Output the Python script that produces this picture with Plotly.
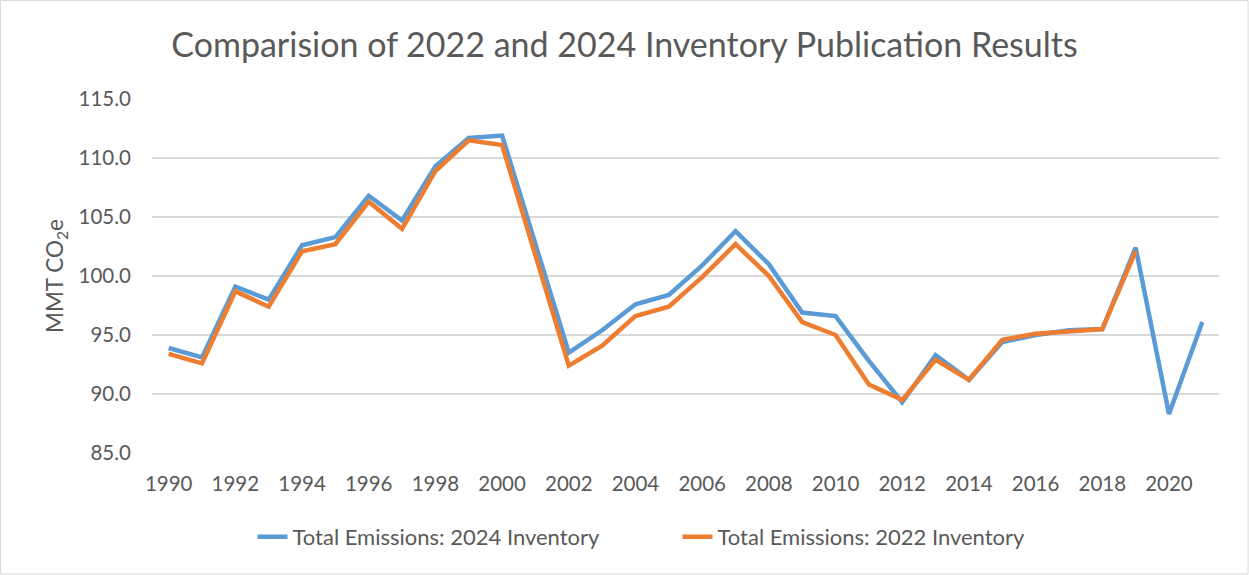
import plotly.graph_objects as go

years = list(range(1990, 2022))
inv_2024 = [93.9, 93.1, 99.1, 98.0, 102.6, 103.3, 106.8, 104.7, 109.3, 111.7, 111.9,
            102.7, 93.5, 95.4, 97.6, 98.4, 100.9, 103.8, 101.0, 96.9, 96.6,
            92.8, 89.3, 93.3, 91.2, 94.4, 95.0, 95.4, 95.5, 102.4, 88.3, 96.1]
inv_2022 = [93.4, 92.6, 98.7, 97.4, 102.1, 102.7, 106.3, 104.0, 108.9, 111.5, 111.1,
            101.8, 92.4, 94.1, 96.6, 97.4, 99.9, 102.7, 100.0, 96.1, 95.0,
            90.8, 89.5, 92.9, 91.2, 94.6, 95.1, 95.3, 95.5, 102.1, None, None]
tick_years = list(range(1990, 2022, 2))

font_family = "Lato, 'Open Sans', sans-serif"
grey = "#595959"

fig = go.Figure()
fig.add_trace(go.Scatter(x=years, y=inv_2024, mode="lines",
                         name="Total Emissions: 2024 Inventory",
                         line=dict(color="#5b9bd5", width=4.5)))
fig.add_trace(go.Scatter(x=years, y=inv_2022, mode="lines",
                         name="Total Emissions: 2022 Inventory",
                         line=dict(color="#ed7d31", width=4.5)))

fig.update_layout(
    width=1249, height=575,
    paper_bgcolor="white", plot_bgcolor="white",
    margin=dict(l=152, r=30, t=99, b=122),
    font=dict(family=font_family, color=grey, size=20),
    title=dict(text="Comparision of 2022 and 2024 Inventory Publication Results",
               x=0.5, xanchor="center", y=0.922, yanchor="middle",
               font=dict(size=34, color=grey, family=font_family)),
    xaxis=dict(range=[1989.5, 2021.5], tickvals=tick_years,
               ticktext=[str(y) for y in tick_years],
               showgrid=False, zeroline=False, showline=False,
               ticks="", ticklabelstandoff=16,
               tickfont=dict(size=20.5, color=grey)),
    yaxis=dict(range=[85, 115], dtick=5, tick0=85, tickformat=".1f",
               showgrid=True, gridcolor="#d9d9d9", gridwidth=1.5,
               zeroline=False, showline=False, ticks="",
               ticklabelstandoff=20,
               tickfont=dict(size=20.5, color=grey),
               title=dict(text="MMT CO<sub>2</sub>e", standoff=8,
                          font=dict(size=22.5, color=grey))),
    legend=dict(orientation="h", x=0.4925, xanchor="center", y=-0.237,
                yanchor="middle", font=dict(size=22, color=grey),
                entrywidth=380, entrywidthmode="pixels"),
    showlegend=True,
    shapes=[dict(type="rect", xref="paper", yref="paper",
                 x0=-0.1420, x1=1.0272, y0=-0.3418, y1=1.2783,
                 line=dict(color="#d9d9d9", width=1), layer="below")],
)

fig.write_html("out.html",
               config={"displayModeBar": False},
               post_script="document.body.style.margin='0';document.body.style.overflow='hidden';")
